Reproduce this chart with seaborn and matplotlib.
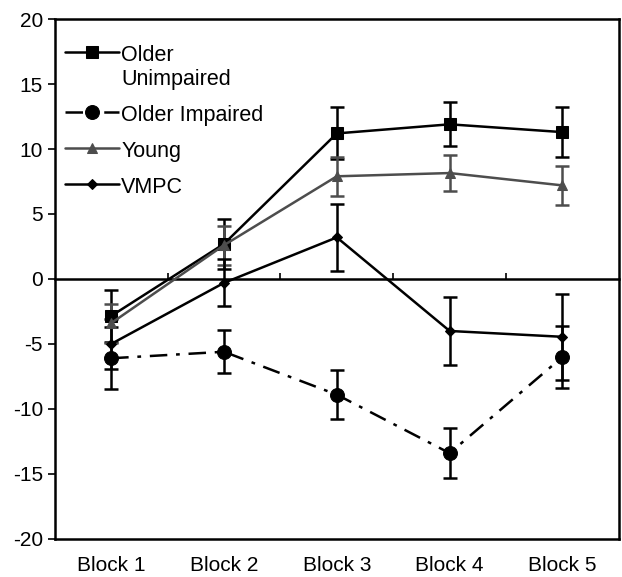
import matplotlib.pyplot as plt
import seaborn as sns
import pandas as pd

blocks = ["Block 1", "Block 2", "Block 3", "Block 4", "Block 5"]

older_unimpaired = [-2.85, 2.7, 11.2, 11.9, 11.3]
older_unimpaired_err = [2.0, 1.9, 2.0, 1.7, 1.9]

older_impaired = [-6.1, -5.6, -8.9, -13.4, -6.0]
older_impaired_err = [2.4, 1.65, 1.9, 1.9, 2.4]

young = [-3.4, 2.6, 7.9, 8.15, 7.2]
young_err = [1.5, 1.5, 1.5, 1.4, 1.5]

vmpc = [-5.0, -0.3, 3.2, -4.0, -4.45]
vmpc_err = [1.9, 1.8, 2.6, 2.6, 3.3]

groups = ["Older\nUnimpaired", "Older Impaired", "Young", "VMPC"]
values = [older_unimpaired, older_impaired, young, vmpc]
errors = [older_unimpaired_err, older_impaired_err, young_err, vmpc_err]

colors = {"Older\nUnimpaired": "black", "Older Impaired": "black",
          "Young": "#4d4d4d", "VMPC": "black"}
markers = {"Older\nUnimpaired": "s", "Older Impaired": "o",
           "Young": "^", "VMPC": "D"}
msizes = {"Older\nUnimpaired": 9, "Older Impaired": 10,
          "Young": 7, "VMPC": 5}
dashes = {"Older\nUnimpaired": "", "Older Impaired": (7, 3.5, 1.5, 3.5),
          "Young": "", "VMPC": ""}

df = pd.DataFrame({
    "block": blocks * len(groups),
    "group": [g for g in groups for _ in blocks],
    "value": [v for vals in values for v in vals],
    "err": [e for errs in errors for e in errs],
})

sns.set_style("ticks")
plt.rcParams["font.family"] = ["Liberation Sans", "DejaVu Sans"]
plt.rcParams["axes.unicode_minus"] = False
plt.rcParams["text.color"] = "black"

fig = plt.figure(figsize=(6.22, 5.77), dpi=100)
ax = fig.add_axes([0.088, 0.066, 0.907, 0.901])

for g in groups:
    sub = df[df["group"] == g]
    ax.errorbar(sub["block"], sub["value"], yerr=sub["err"], fmt="none",
                ecolor=colors[g], elinewidth=1.8, capsize=5, capthick=1.8,
                zorder=2)
    sns.lineplot(data=sub, x="block", y="value", ax=ax, color=colors[g],
                 marker=markers[g], markersize=msizes[g],
                 markeredgecolor=colors[g], linewidth=1.8,
                 dashes=dashes[g] if dashes[g] else (None, None),
                 label=g, zorder=3, sort=False)

ax.set_xlim(-0.5, 4.5)
ax.set_ylim(-20, 20)
ax.set_yticks(range(-20, 21, 5))
ax.set_xlabel("")
ax.set_ylabel("")
for s in ax.spines.values():
    s.set_visible(True)
    s.set_linewidth(1.8)
    s.set_color("black")
ax.tick_params(axis="y", direction="out", length=5, width=1.2,
               labelsize=15, colors="black")
ax.tick_params(axis="x", length=0, labelsize=15, pad=12, colors="black")

zero = ax.secondary_xaxis(0.5)
zero.set_xticks([0.5, 1.5, 2.5, 3.5])
zero.set_xticklabels([])
zero.tick_params(direction="out", length=4, width=1.2, colors="black")
for s in zero.spines.values():
    s.set_linewidth(1.8)
    s.set_color("black")

leg = ax.legend(loc="upper left", frameon=False, fontsize=15.5,
                handlelength=2.5, labelspacing=0.7, handletextpad=0.1,
                borderaxespad=0.3, bbox_to_anchor=(-0.008, 0.98))
for t in leg.get_texts():
    t.set_color("black")
# put each handle level with the first line of its label
for col in leg._legend_handle_box.get_children():
    for item in col.get_children():
        item.align = "top"

fig.savefig("out.png", dpi=100)
